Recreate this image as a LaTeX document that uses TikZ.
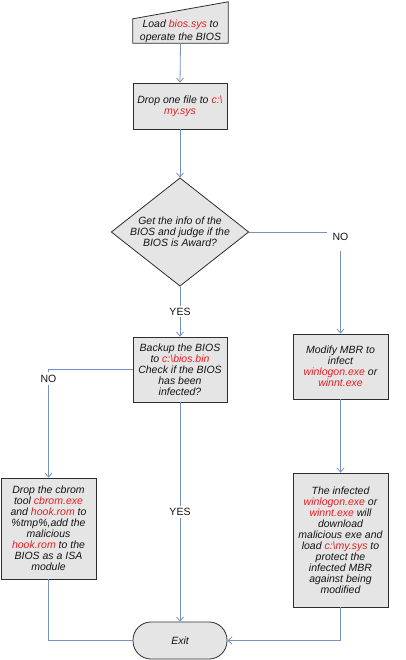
\documentclass[tikz,border=0pt]{standalone}
\usepackage{fontspec}
\setmainfont{Liberation Sans}
\usetikzlibrary{arrows.meta,shapes.geometric}
\definecolor{linecol}{RGB}{115,145,195}
\definecolor{boxfill}{RGB}{229,229,229}
\definecolor{boxline}{RGB}{45,45,45}
\definecolor{hl}{RGB}{230,30,35}
\newcommand{\rd}[1]{\textcolor{hl}{#1}}
\begin{document}
\begin{tikzpicture}[x=1pt,y=-1pt,
  txt/.style={font=\fontsize{10.5}{11}\selectfont\itshape, text=black!92, align=center},
  proc/.style={txt, draw=boxline, fill=boxfill, line width=0.8pt, inner sep=0pt},
  connline/.style={draw=linecol, line width=0.8pt},
  arr/.style={connline, -{Straight Barb[length=4pt,width=7pt]}},
  lbl/.style={font=\fontsize{10.5}{11}\selectfont, fill=white, text=black!92, inner sep=2pt}]
\useasboundingbox (0,0) rectangle (406,660);
% manual input shape
\node[minimum width=95pt, minimum height=41pt, inner sep=0pt] (loadshape) at (180.5,22.5) {};
\draw[draw=boxline, fill=boxfill, line width=0.8pt] (loadshape.south west) -- ([yshift=-17pt]loadshape.north west) -- (loadshape.north east) -- (loadshape.south east) -- cycle;
\node[txt, font=\fontsize{10.5}{13}\selectfont\itshape] (load) at (180.5,31.5) {Load \rd{bios.sys} to\\operate the BIOS};

\node[proc, minimum width=94pt, minimum height=46pt] (drop) at (180,106) {Drop one file to \rd{c:\textbackslash}\\\rd{my.sys}};
\node[txt, diamond, draw=boxline, fill=boxfill, line width=0.8pt, inner sep=0pt, shape aspect=1.27, minimum width=132pt, minimum height=104pt] (dec) at (180,232) {Get the info of the\\BIOS and judge if the\\BIOS is Award?};
\node[proc, minimum width=94pt, minimum height=65pt] (backup) at (180,369.5) {Backup the BIOS\\to \rd{c:\textbackslash bios.bin}\\Check if the BIOS\\has been\\infected?};
\node[proc, minimum width=95pt, minimum height=101pt] (cbrom) at (48.5,528.5) {Drop the cbrom\\tool \rd{cbrom.exe}\\and \rd{hook.rom} to\\\%tmp\%,add the\\malicious\\\rd{hook.rom} to the\\BIOS as a ISA\\module};
\node[proc, minimum width=95pt, minimum height=65pt] (modify) at (340.5,366.5) {Modify MBR to\\infect\\\rd{winlogon.exe} or\\\rd{winnt.exe}};
\node[proc, minimum width=95pt, minimum height=134pt] (infected) at (340.5,540) {The infected\\\rd{winlogon.exe} or\\\rd{winnt.exe} will\\download\\malicious exe and\\load \rd{c:\textbackslash my.sys} to\\protect the\\infected MBR\\against being\\modified};
\node[proc, rounded corners=18pt, minimum width=94pt, minimum height=37pt] (exit) at (180,640.5) {Exit};

% connectors
\draw[arr] (loadshape.south) -- (drop.north);
\draw[arr] (drop.south) -- (dec.north);
\draw[arr] (dec.east) -| node[lbl, pos=0.5, minimum width=28pt, minimum height=28pt, yshift=-5pt] {NO} (modify.north);
\draw[arr] (dec.south) -- node[lbl, pos=0.5] {YES} (backup.north);
\draw[arr] (backup.west) -| node[lbl, pos=0.5, anchor=north, inner sep=3pt, yshift=-2pt] {NO} (cbrom.north);
\draw[arr] (backup.south) -- node[lbl, pos=0.5] {YES} (exit.north);
\draw[connline] (cbrom.south) |- (exit.west);
\draw[arr] (modify.south) -- (infected.north);
\draw[arr] (infected.south) |- (exit.east);
\end{tikzpicture}
\end{document}
